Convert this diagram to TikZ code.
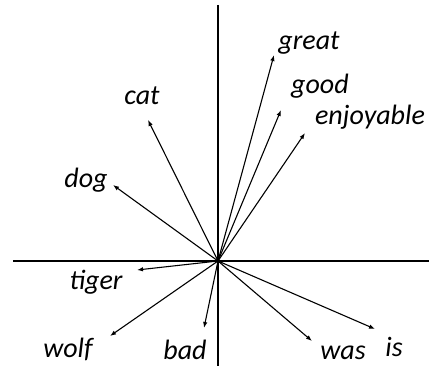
\documentclass[tikz,border=0pt]{standalone}
\usepackage{fontspec}
\setmainfont{Carlito}
\usetikzlibrary{arrows.meta}

\begin{document}
\begin{tikzpicture}[x=1pt,y=-1pt,
  word/.style={font=\fontsize{28}{30}\selectfont\itshape,inner sep=0pt},
  vec/.style={-{Latex[length=6pt,width=4.5pt]},line width=1.1pt},
  axis/.style={line width=1.6pt}]
\useasboundingbox (0,0) rectangle (429,366);
% axes
\coordinate (o) at (218,261);
\coordinate (ytop) at (218,5);
\coordinate (ybot) at (218,366);
\coordinate (xleft) at (13,261);
\coordinate (xright) at (429,261);
\draw[axis] (ytop) -- (ybot);
\draw[axis] (xleft) -- (xright);
% vector tips
\coordinate (tgreat) at (274,55);
\coordinate (tgood) at (281,110);
\coordinate (tenjoy) at (305,133);
\coordinate (tcat) at (148,120);
\coordinate (tdog) at (113,185);
\coordinate (ttiger) at (137,270);
\coordinate (twolf) at (110,336);
\coordinate (tbad) at (204,328);
\coordinate (twas) at (312,341);
\coordinate (tis) at (375,329);
% labels
\node[word] (great) at (309,43) {great};
\node[word] (good) at (320,86) {good};
\node[word] (enjoy) at (370,117) {enjoyable};
\node[word] (cat) at (142,96) {cat};
\node[word] (dog) at (86,180) {dog};
\node[word] (tiger) at (96,282) {tiger};
\node[word] (wolf) at (68,349) {wolf};
\node[word] (bad) at (185,350) {bad};
\node[word] (was) at (343,353) {was};
\node[word] (is) at (394,347) {is};
% vectors
\foreach \t in {tgreat,tgood,tenjoy,tcat,tdog,ttiger,twolf,tbad,twas,tis}
  \draw[vec] (o) -- (\t);
\end{tikzpicture}
\end{document}
